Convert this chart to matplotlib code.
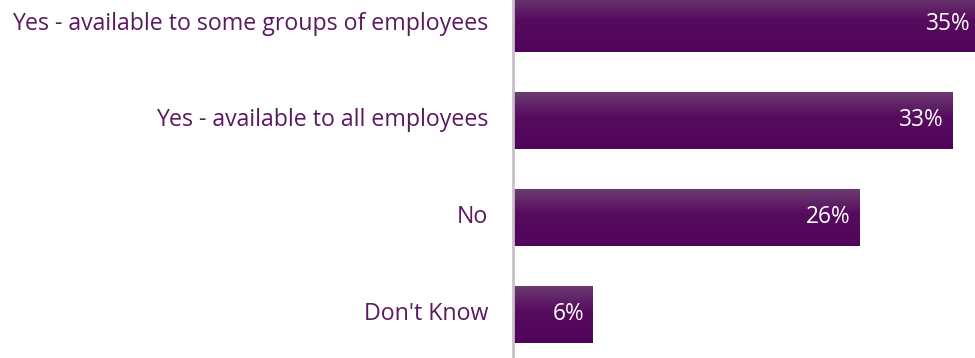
import numpy as np
import matplotlib
matplotlib.use("Agg")
import matplotlib.pyplot as plt
from matplotlib.colors import LinearSegmentedColormap

categories = [
    "Yes - available to some groups of employees",
    "Yes - available to all employees",
    "No",
    "Don't Know",
]
values = [35, 33, 26, 6]
value_labels = ["35%", "33%", "26%", "6%"]

label_color = "#5b1a60"
bar_cmap = LinearSegmentedColormap.from_list(
    "bar_grad", [(0.0, "#6e3d73"), (0.45, "#560b5e"), (1.0, "#50055a")]
)

fig = plt.figure(figsize=(9.75, 3.58), dpi=100)
ax = fig.add_axes([513 / 975, 0, 1 - 513 / 975, 1])

y = np.arange(len(categories))
bar_h = 0.588
bars = ax.barh(y, values, height=bar_h, color="#560b5e", zorder=2)

grad = np.linspace(0, 1, 256).reshape(-1, 1)
for rect in bars:
    x0, y0 = rect.get_x(), rect.get_y()
    w, h = rect.get_width(), rect.get_height()
    im = ax.imshow(grad, cmap=bar_cmap, aspect="auto",
                   extent=(x0, x0 + w, y0 + h, y0), zorder=3,
                   interpolation="bilinear")
    im.set_clip_path(rect)

px_per_unit = (953 - 513) / 33
ax.set_xlim(0, (975 - 513) / px_per_unit)
ax.set_ylim(3 + (358 - 314.5) / 97, -23.5 / 97)

for yi, v, lab in zip(y, values, value_labels):
    ax.text(v - 9 / px_per_unit, yi, lab, ha="right", va="center", color="white",
            fontsize=16.3, family="Open Sans", zorder=4)

for yi, cat in zip(y, categories):
    ax.text(-25 / px_per_unit, yi, cat, ha="right", va="center", color=label_color,
            fontsize=16.7, family="Open Sans", clip_on=False)

for s in ["top", "right", "bottom"]:
    ax.spines[s].set_visible(False)
ax.spines["left"].set_color("#c9bfcc")
ax.spines["left"].set_linewidth(2)
ax.spines["left"].set_zorder(5)
ax.set_xticks([])
ax.set_yticks([])
ax.patch.set_alpha(0)

fig.savefig("out.png", dpi=100)
